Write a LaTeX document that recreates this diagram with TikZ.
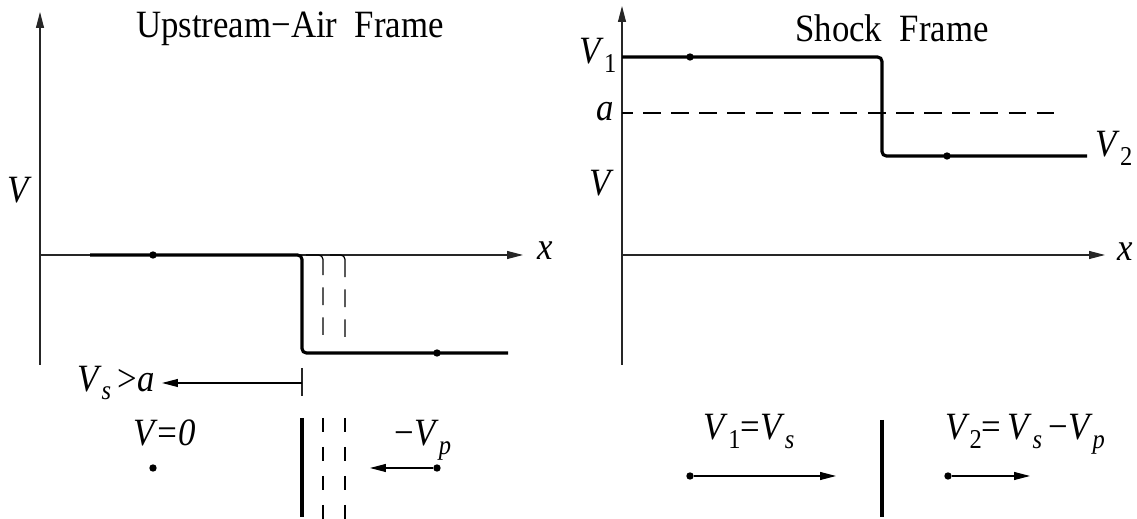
\documentclass[tikz,border=0pt]{standalone}
\usepackage{fontspec}
\setmainfont[FakeStretch=0.9]{Liberation Serif}
\usepackage{tikz}
\usetikzlibrary{arrows.meta, positioning}

\newcommand{\lowsub}[1]{\raisebox{-5pt}{\fontsize{15.5}{15.5}\selectfont #1}}
\newcommand{\Vn}[1]{\textit{V}\lowsub{#1}}
\newcommand{\Vt}[1]{\textit{V}\lowsub{\textit{#1}}}

\begin{document}
\begin{tikzpicture}[
    x=0.02cm, y=-0.02cm,
    every node/.style={font=\fontsize{22}{24}\selectfont, inner sep=0pt},
    axis/.style={-{Triangle[length=9pt, width=4.5pt]}, line width=0.6pt, black!85},
    curve/.style={line width=1.8pt, rounded corners=2.5pt},
    ghost/.style={line width=0.7pt, rounded corners=2.5pt,
                  dash pattern=on 20pt off 7pt on 10pt off 7pt on 10pt off 7pt},
    wall/.style={line width=2.6pt},
    wallghost/.style={line width=0.7pt, dash pattern=on 8pt off 8.5pt},
    vel/.style={-{Triangle[length=9pt, width=4.5pt]}, line width=0.6pt},
    dot/.style={circle, fill, inner sep=0pt, minimum size=4.2pt}
]
\useasboundingbox (0,0) rectangle (1137,519);

% Upstream-air frame: axes
\coordinate (lo) at (40,255);
\coordinate (ltop) at (40,12);
\coordinate (lbot) at (40,365);
\coordinate (lend) at (523,255);
\draw[axis] (lbot) -- (ltop);
\draw[axis] (lo) -- (lend);
\node (lx) at (545,251) {\textit{x}};
\node (lv) at (20,190) {\textit{V}};
\node (ltitle) at (290,29) {Upstream−Air\ \ Frame};

% Upstream-air frame: velocity profile
\node[dot] (lup) at (153,255) {};
\node[dot] (ldn) at (437,353) {};
\draw[curve] (90,255) -- (302,255) -- (302,353) -- (508,353);
\draw[ghost] (306,255) -| (323,345);
\draw[ghost] (330,255) -| (345,345);

% shock speed
\coordinate (tk1) at (302,368);
\coordinate (tk2) at (302,396);
\coordinate (shk) at (302,383);
\draw[line width=0.6pt, black!85] (tk1) -- (tk2);
\node[anchor=east] (vsa) at (155,383) {\Vt{s}\,>\textit{a}};
\draw[vel, shorten >=4pt] (shk) -- (vsa.east);

% Upstream-air frame: particles
\coordinate (lw1) at (302,418);
\coordinate (lw2) at (302,517);
\draw[wall] (lw1) -- (lw2);
\draw[wallghost] (323,418) -- (323,519);
\draw[wallghost] (345,418) -- (345,519);
\node[anchor=base] (v0) at (165,446) {\textit{V=0}};
\node[dot] (p0) at (153,468) {};
\node[anchor=base] (vp) at (423,446) {−\Vt{p}};
\node[dot] (pp) at (437,468) {};
\coordinate (ppt) at (370,468);
\draw[vel] (pp) -- (ppt);

% Shock frame: axes
\coordinate (ro) at (622,255);
\coordinate (rtop) at (622,6);
\coordinate (rbot) at (622,365);
\coordinate (rend) at (1105,255);
\draw[axis] (rbot) -- (rtop);
\draw[axis] (ro) -- (rend);
\node (rx) at (1125,252) {\textit{x}};
\node (rv) at (602,183) {\textit{V}};
\node (ra) at (605,112) {\textit{a}};
\node[anchor=base] (rv1) at (598,64) {\Vn{1}};
\node[anchor=base] (rv2) at (1114,157) {\Vn{2}};
\node (rtitle) at (892,28) {Shock\ \ Frame};

% Shock frame: velocity profile
\coordinate (sa1) at (622,113);
\coordinate (sa2) at (1063,113);
\draw[line width=0.6pt, dash pattern=on 10pt off 6pt, dash phase=4pt] (sa1) -- (sa2);
\node[dot] (rup) at (690,57) {};
\node[dot] (rdn) at (947,156) {};
\draw[curve] (622,57) -- (882,57) -- (882,156) -- (1087,156);

% Shock frame: particles
\coordinate (rw1) at (882,420);
\coordinate (rw2) at (882,517);
\draw[wall] (rw1) -- (rw2);
\node[anchor=base] (v1s) at (749,440) {\Vn{1}=\Vt{s}};
\node[dot] (q1) at (690,476) {};
\coordinate (q1t) at (836,476);
\draw[vel] (q1) -- (q1t);
\node[anchor=base] (v2s) at (1025,440) {\Vn{2}=\,\Vt{s}\,−\Vt{p}};
\node[dot] (q2) at (948,476) {};
\coordinate (q2t) at (1030,476);
\draw[vel] (q2) -- (q2t);
\end{tikzpicture}
\end{document}
